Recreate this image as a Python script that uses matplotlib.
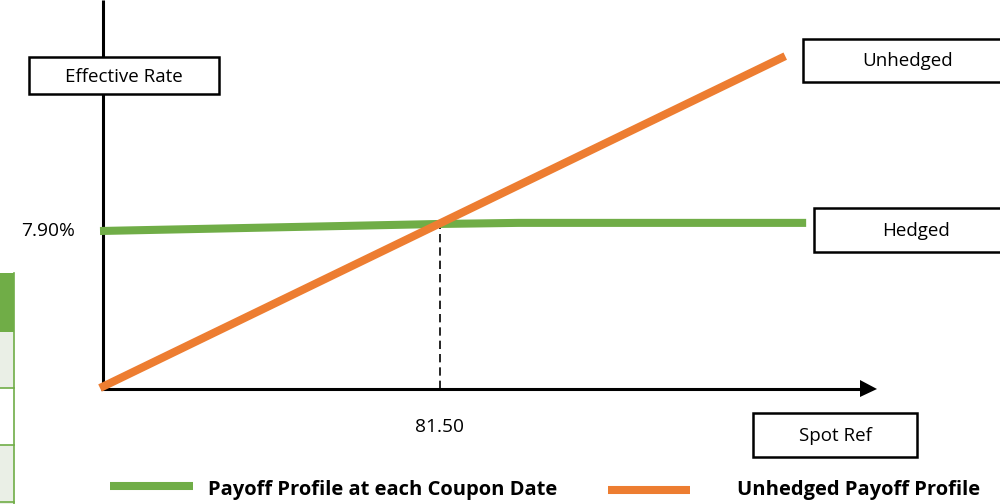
import numpy as np
import matplotlib
matplotlib.use("Agg")
import matplotlib.pyplot as plt
from matplotlib.patches import Rectangle, Polygon

plt.rcParams['font.family'] = ['Open Sans', 'DejaVu Sans']

GREEN = '#70AD47'
ORANGE = '#ED7D31'

# payoff data (spot vs effective rate, %)
hedged_spot = [75.0, 81.5, 83.0, 88.5]
hedged_rate = [7.90, 8.03, 8.05, 8.05]
unhedged_spot = [75.0, 88.1]
unhedged_rate = [5.0, 11.13]
strike_spot = 81.5
fixed_rate = 7.90
strike_label = '81.50'
rate_label = '7.90%'

W, H = 1000, 504
fig = plt.figure(figsize=(W / 100, H / 100), dpi=100)

# layout layer in pixel units
deco = fig.add_axes([0, 0, 1, 1])
deco.set_xlim(0, W)
deco.set_ylim(H, 0)
deco.axis('off')

# data layer: origin of the diagram sits at pixel (100, 388)
ox, oy = 100, 388
sx = 340 / (strike_spot - unhedged_spot[0])
sy = (oy - 231) / (fixed_rate - unhedged_rate[0])
x_min = unhedged_spot[0] - ox / sx
x_max = unhedged_spot[0] + (W - ox) / sx
y_min = unhedged_rate[0] - (H - oy) / sy
y_max = unhedged_rate[0] + oy / sy
ax = fig.add_axes([0, 0, 1, 1])
ax.set_xlim(x_min, x_max)
ax.set_ylim(y_min, y_max)
ax.patch.set_alpha(0)
ax.axis('off')

# partial table on the left edge
deco.add_patch(Rectangle((-5, 273), 19, 59, facecolor=GREEN, edgecolor='none'))
for top, bot, fc in [(332, 388, '#EAEFE6'), (388, 445, 'white'), (445, 506, '#EAEFE6')]:
    deco.add_patch(Rectangle((-5, top), 19, bot - top, facecolor=fc,
                             edgecolor='none'))
for yy in [388, 445, 502]:
    deco.plot([-5, 14], [yy, yy], color=GREEN, lw=1.2)
deco.plot([14, 14], [273, 504], color=GREEN, lw=1.2)

# axes with arrow
deco.plot([103, 103], [0, 389], color='black', lw=2.2, solid_capstyle='butt')
deco.plot([101, 862], [389, 389], color='black', lw=2.2, solid_capstyle='butt')
deco.add_patch(Polygon([(860, 380), (877, 389), (860, 397)], closed=True,
                       facecolor='black', edgecolor='none'))

# payoff lines
rate_at_strike = np.interp(strike_spot, hedged_spot, hedged_rate)
ax.plot([strike_spot, strike_spot], [y_min + (H - 389) / sy, rate_at_strike],
        color='black', lw=1.2, linestyle=(0, (5, 3)), zorder=2)
ax.plot(hedged_spot, hedged_rate, color=GREEN, lw=5.8,
        solid_capstyle='butt', zorder=3)
ax.plot(unhedged_spot, unhedged_rate, color=ORANGE, lw=5.8,
        solid_capstyle='butt', zorder=4)

ax.text(unhedged_spot[0] - 25 / sx, fixed_rate, rate_label, ha='right',
        va='center', fontsize=13.8)
ax.text(strike_spot, unhedged_rate[0] - 39 / sy, strike_label, ha='center',
        va='center', fontsize=13.8)


def label_box(x0, y0, x1, y1, text):
    deco.add_patch(Rectangle((x0, y0), x1 - x0, y1 - y0, facecolor='white',
                             edgecolor='black', lw=1.8, zorder=5))
    deco.text((x0 + x1) / 2, (y0 + y1) / 2 + 1, text, ha='center',
              va='center', fontsize=13.5, zorder=6)


label_box(29, 57, 219, 94, 'Effective Rate')
label_box(803, 39, 1012, 82, 'Unhedged')
label_box(814, 208, 1018, 252, 'Hedged')
label_box(753, 413, 917, 457, 'Spot Ref')

# legend
deco.plot([110, 193], [486, 486], color=GREEN, lw=5.8, solid_capstyle='butt')
deco.text(208, 490, 'Payoff Profile at each Coupon Date', ha='left',
          va='center', fontsize=14.5, fontweight='bold')
deco.plot([608, 690], [490, 490], color=ORANGE, lw=5.8, solid_capstyle='butt')
deco.text(737, 490, 'Unhedged Payoff Profile', ha='left', va='center',
          fontsize=14.5, fontweight='bold')

fig.savefig('out.png', dpi=100)
